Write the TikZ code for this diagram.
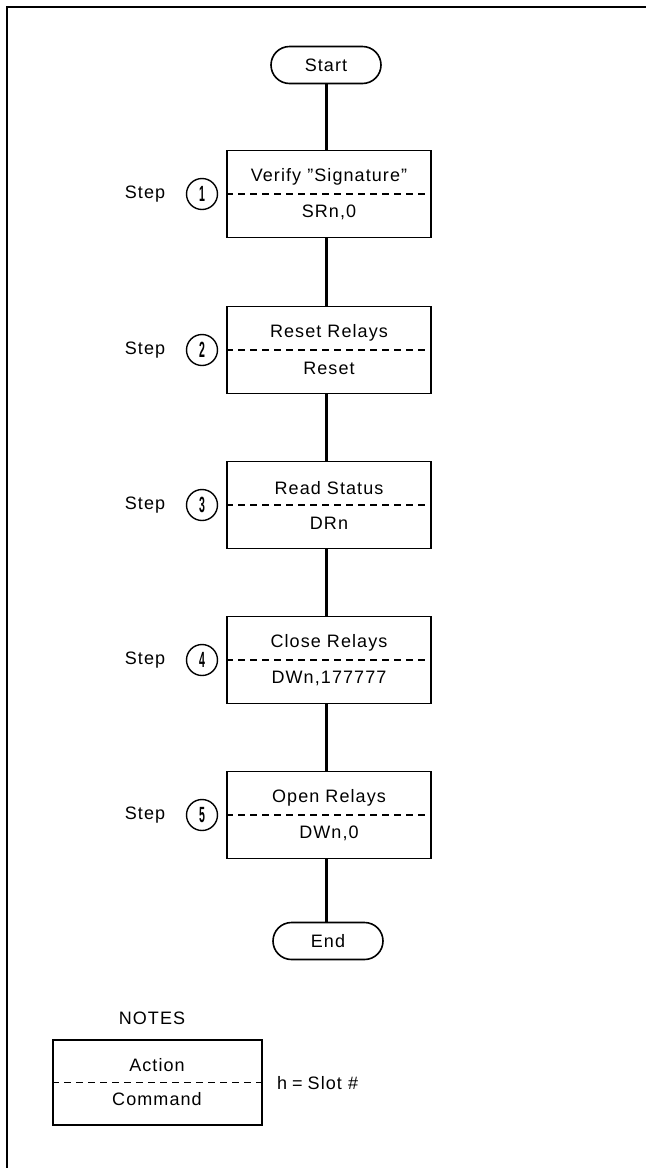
\documentclass[tikz,border=0pt]{standalone}
\usepackage{fontspec}
\usepackage{graphicx}
\setmainfont{Liberation Sans}[LetterSpace=6]
\usetikzlibrary{shapes.misc}
\begin{document}
\begin{tikzpicture}[x=1pt,y=-1pt,
  txt/.style={font=\fontsize{18}{20}\selectfont, inner sep=0pt},
  term/.style={draw, line width=1.6pt, rounded rectangle, minimum width=110pt, minimum height=37pt, inner sep=0pt, font=\fontsize{18}{20}\selectfont},
  stepbox/.style={draw, line width=1.8pt, minimum width=204pt, minimum height=87pt, inner sep=0pt},
  sep/.style={line width=1.3pt, dash pattern=on 7pt off 5pt},
  conn/.style={line width=3pt},
  num/.style={draw, circle, line width=1.4pt, minimum size=31pt, inner sep=0pt, font=\fontsize{22}{22}\selectfont\bfseries}]
\useasboundingbox (0,0) rectangle (646,1168);
\draw[line width=1.8pt] (7,1168) -- (7,7) -- (646,7);

\node[term] (start) at (326,65) {Start};
\node[term] (end) at (328,941) {End};

\foreach \i/\y/\a/\c in {1/194/{Verify ''Signature''}/{SRn,0},
                         2/350/{Reset Relays}/{Reset},
                         3/505/{Read Status}/{DRn},
                         4/660/{Close Relays}/{DWn,177777},
                         5/815/{Open Relays}/{DWn,0}}{
  \node[stepbox] (b\i) at (329,\y) {};
  \draw[sep] (b\i.west) -- (b\i.east);
  \node[txt] (a\i) at (329,\y-17) {\a};
  \node[txt] (c\i) at (329,\y+18) {\c};
  \node[txt] (s\i) at (145,\y) {Step};
  \node[num] (n\i) at (202,\y) {\scalebox{0.48}[1]{\i}};
}

\draw[conn] (start.south) -- (start.south |- b1.north);
\draw[conn] (b1.south -| start.south) -- (start.south |- b2.north);
\draw[conn] (b2.south -| start.south) -- (start.south |- b3.north);
\draw[conn] (b3.south -| start.south) -- (start.south |- b4.north);
\draw[conn] (b4.south -| start.south) -- (start.south |- b5.north);
\draw[conn] (b5.south -| start.south) -- (start.south |- end.north);

\node[txt] (notes) at (152,1018) {NOTES};
\node[stepbox, minimum width=209pt, minimum height=85pt] (key) at (157.5,1082.5) {};
\draw[sep] (key.west) -- (key.east);
\node[txt] (action) at (157,1065) {Action};
\node[txt] (command) at (157,1099) {Command};
\node[txt, anchor=west] (slot) at (277,1083) {h\hspace{5pt}=\hspace{5pt}Slot \#};
\end{tikzpicture}
\end{document}
